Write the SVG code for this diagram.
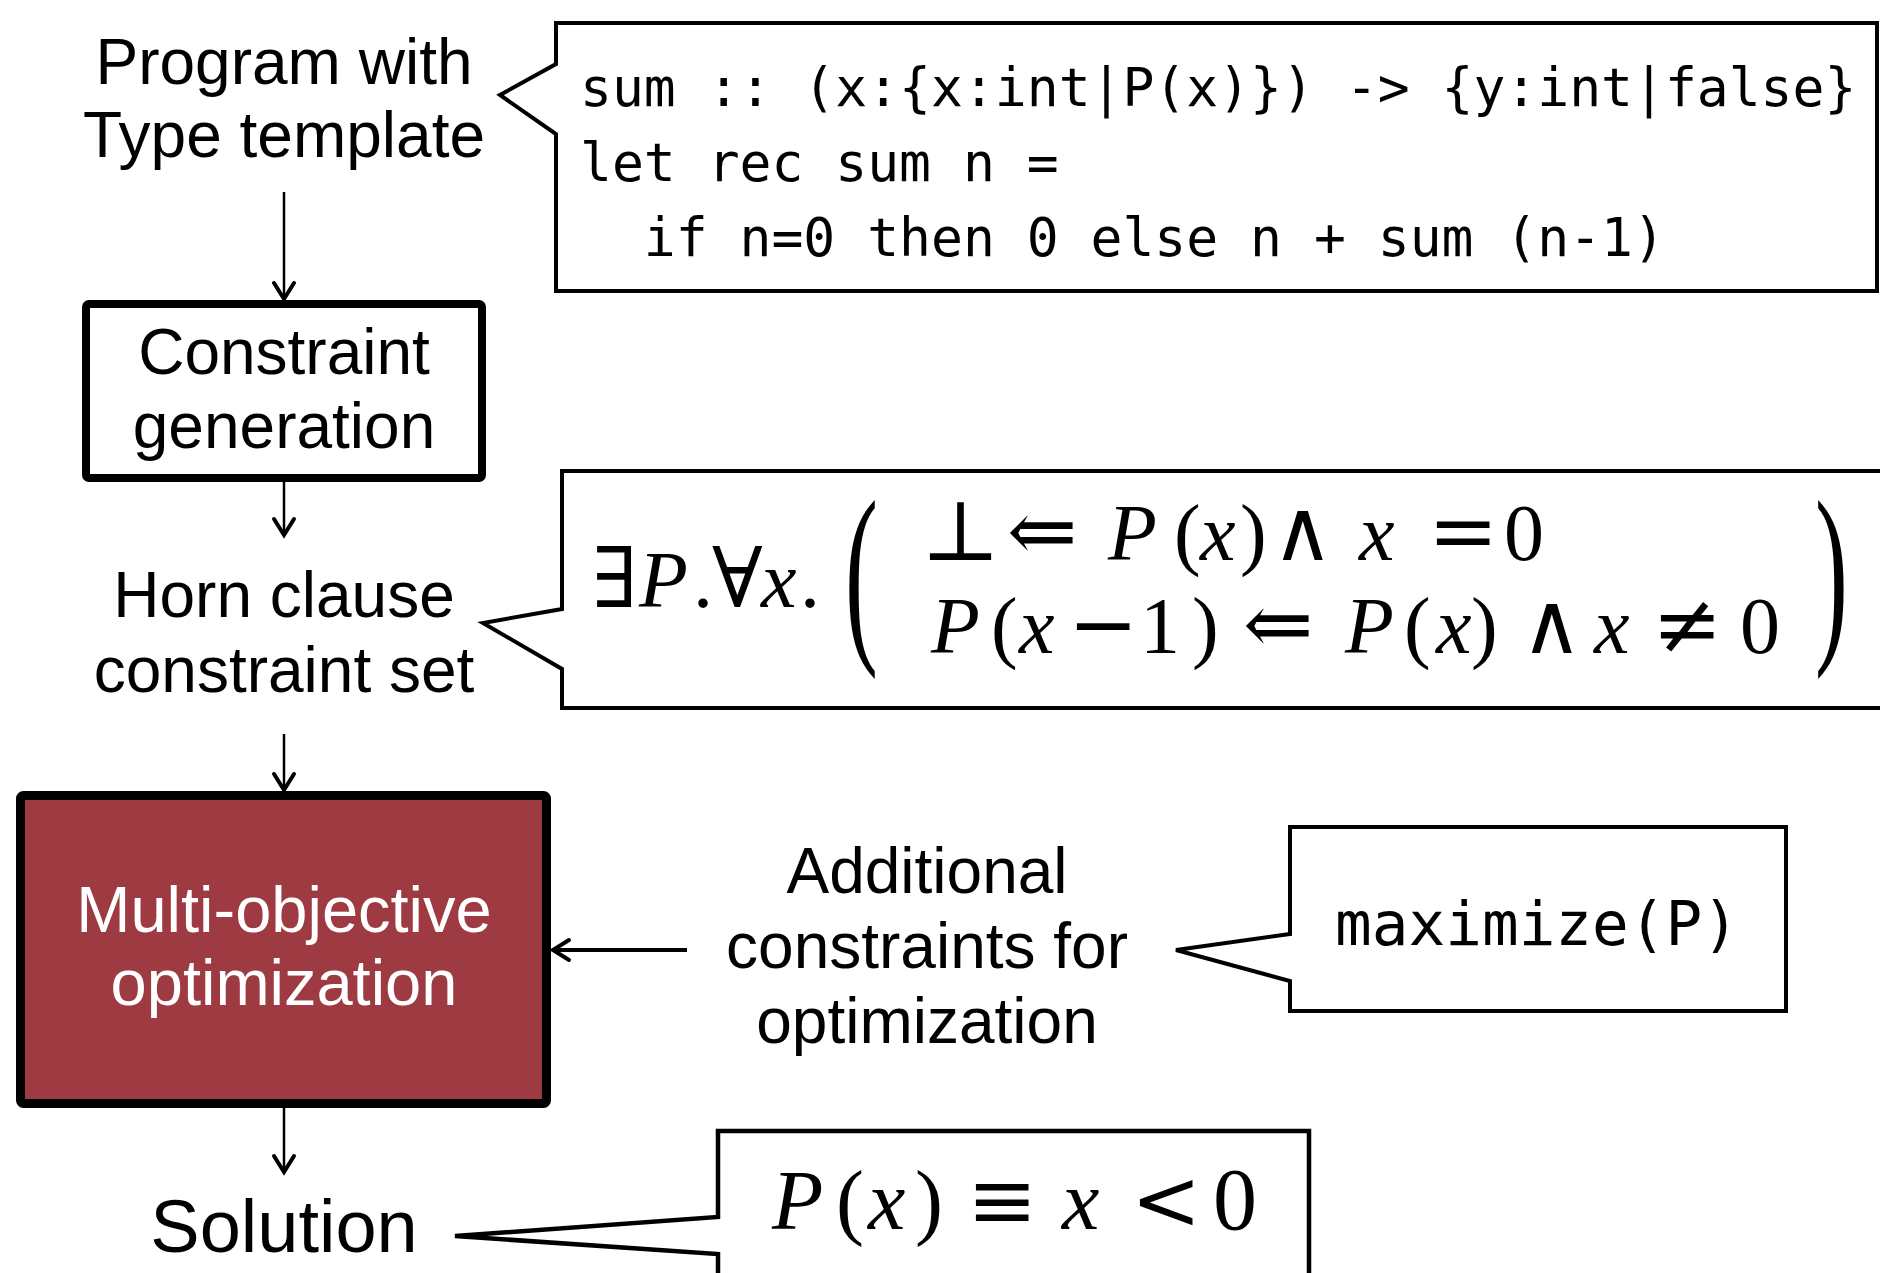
<svg xmlns="http://www.w3.org/2000/svg" width="1880" height="1273" viewBox="0 0 1880 1273">
<style>
.lbl{font-family:"Liberation Sans",Arial,sans-serif;font-size:64px;fill:#000;text-anchor:middle}
.code{font-family:"DejaVu Sans Mono","Liberation Mono",monospace;font-size:53px;fill:#000}
.m{font-family:"Liberation Serif","DejaVu Serif",serif;font-size:80px;fill:#000}
.mi{font-family:"Liberation Serif","DejaVu Serif",serif;font-style:italic;font-size:80px;fill:#000}
.ms{font-family:"DejaVu Serif","Liberation Serif",serif;font-size:84px;fill:#000}
.callout{fill:#fff;stroke:#000;stroke-width:4;stroke-linejoin:miter}
.conn{stroke:#000;fill:none}
</style>
<defs>
<marker id="arr" markerUnits="userSpaceOnUse" markerWidth="26" markerHeight="26" viewBox="0 0 26 26" refX="21" refY="13" orient="auto">
<path d="M5,3 L21,13 L5,23" fill="none" stroke="#000" stroke-width="4" stroke-linecap="round" stroke-linejoin="miter"/>
</marker>
</defs>
<rect width="1880" height="1273" fill="#fff"/>

<g id="connectors">
<line class="conn" x1="284" y1="192" x2="284" y2="299" stroke-width="2.5" marker-end="url(#arr)"/>
<line class="conn" x1="284" y1="482" x2="284" y2="535" stroke-width="2.5" marker-end="url(#arr)"/>
<line class="conn" x1="284" y1="734" x2="284" y2="790" stroke-width="2.5" marker-end="url(#arr)"/>
<line class="conn" x1="687" y1="950" x2="553" y2="950" stroke-width="4" marker-end="url(#arr)"/>
<line class="conn" x1="284" y1="1108" x2="284" y2="1172" stroke-width="2.5" marker-end="url(#arr)"/>
</g>

<g id="program-label">
<text class="lbl" x="284" y="84">Program with</text>
<text class="lbl" x="284" y="157">Type template</text>
</g>

<g id="program-code">
<path class="callout" d="M1877,23 H556 V64 L500,95 L556,134 V291 H1877 Z"/>
<text class="code" x="580" y="106" xml:space="preserve">sum :: (x:{x:int|P(x)}) -&gt; {y:int|false}</text>
<text class="code" x="580" y="181" xml:space="preserve">let rec sum n =</text>
<text class="code" x="580" y="256" xml:space="preserve">  if n=0 then 0 else n + sum (n-1)</text>
</g>

<g id="constraint-generation">
<rect x="86" y="304" width="396" height="174" rx="3" fill="#fff" stroke="#000" stroke-width="8"/>
<text class="lbl" x="284" y="374">Constraint</text>
<text class="lbl" x="284" y="448">generation</text>
</g>

<g id="horn-label">
<text class="lbl" x="284" y="617">Horn clause</text>
<text class="lbl" x="284" y="692">constraint set</text>
</g>

<g id="horn-formula">
<path class="callout" d="M1895,471 H562 V609 L483,623 L562,669 V708 H1895"/>
<text y="607"><tspan class="ms" x="592">∃</tspan><tspan class="mi" x="639">P</tspan><tspan class="m" x="693">.</tspan><tspan class="ms" x="712">∀</tspan><tspan class="mi" x="761">x</tspan><tspan class="m" x="800">.</tspan></text>
<text class="m" transform="translate(845,637) scale(1.3,2.6)" style="font-size:76px">(</text>
<text class="m" transform="translate(1815,637) scale(1.3,2.6)" style="font-size:76px">)</text>
<text y="560"><tspan class="ms" x="921">⊥</tspan><tspan class="ms" x="1007">⇐</tspan><tspan class="mi" x="1108">P</tspan><tspan class="m" x="1174">(</tspan><tspan class="mi" x="1200">x</tspan><tspan class="m" x="1240">)</tspan><tspan class="ms" x="1272">∧</tspan><tspan class="mi" x="1359">x</tspan><tspan class="ms" x="1428">=</tspan><tspan class="m" x="1504">0</tspan></text>
<text y="653"><tspan class="mi" x="931">P</tspan><tspan class="m" x="991">(</tspan><tspan class="mi" x="1019">x</tspan><tspan class="ms" x="1068">−</tspan><tspan class="m" x="1140">1</tspan><tspan class="m" x="1192">)</tspan><tspan class="ms" x="1243">⇐</tspan><tspan class="mi" x="1345">P</tspan><tspan class="m" x="1404">(</tspan><tspan class="mi" x="1436">x</tspan><tspan class="m" x="1471">)</tspan><tspan class="ms" x="1521">∧</tspan><tspan class="mi" x="1594">x</tspan><tspan class="ms" x="1652">≠</tspan><tspan class="m" x="1740">0</tspan></text>
</g>

<g id="multi-objective-optimization">
<rect x="20.5" y="795.5" width="526" height="308" rx="3" fill="#9E3A41" stroke="#000" stroke-width="9"/>
<text class="lbl" x="284" y="932" style="fill:#fff;font-size:65px">Multi-objective</text>
<text class="lbl" x="284" y="1005" style="fill:#fff;font-size:65px">optimization</text>
</g>

<g id="additional-label">
<text class="lbl" x="927" y="893">Additional</text>
<text class="lbl" x="927" y="968">constraints for</text>
<text class="lbl" x="927" y="1043">optimization</text>
</g>

<g id="maximize">
<path class="callout" d="M1290,827 H1786 V1011 H1290 V981 L1176,950 L1290,934 Z"/>
<text class="code" x="1335" y="945" style="font-size:61px">maximize(P)</text>
</g>

<g id="solution-label">
<text class="lbl" x="284" y="1252" style="font-size:74px">Solution</text>
</g>

<g id="solution-formula">
<path class="callout" d="M718,1290 V1254 L455,1236 L718,1217 V1131 H1309 V1290" style="stroke-width:4.5"/>
<text y="1229"><tspan class="mi" x="772" style="font-size:84px">P</tspan><tspan class="m" x="836" style="font-size:84px">(</tspan><tspan class="mi" x="868" style="font-size:84px">x</tspan><tspan class="m" x="915" style="font-size:84px">)</tspan><tspan class="ms" x="967" style="font-size:84px">≡</tspan><tspan class="mi" x="1062" style="font-size:84px">x</tspan><tspan class="ms" x="1131" style="font-size:84px">&lt;</tspan><tspan class="m" x="1213" style="font-size:88px">0</tspan></text>
</g>
</svg>
